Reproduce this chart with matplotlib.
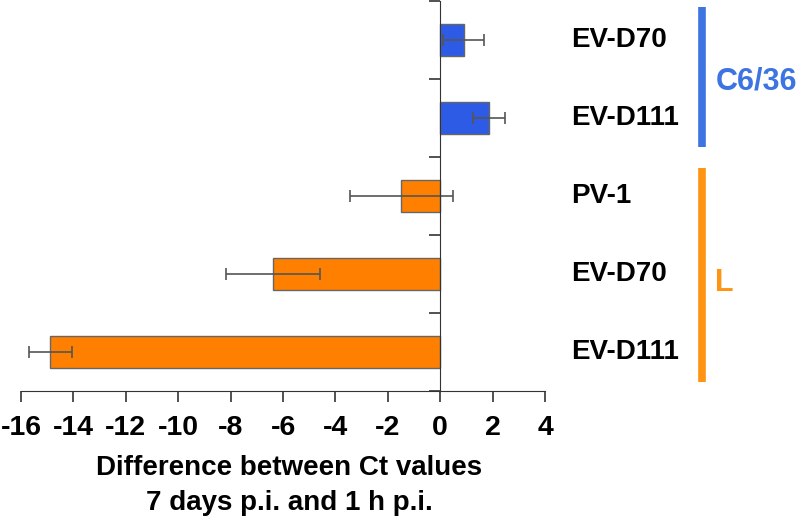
import numpy as np
import matplotlib.pyplot as plt

plt.rcParams['font.family'] = ['Liberation Sans', 'DejaVu Sans']
plt.rcParams['font.weight'] = 'bold'

# data, top to bottom
labels = ['EV-D70', 'EV-D111', 'PV-1', 'EV-D70', 'EV-D111']
values = [0.89, 1.87, -1.48, -6.38, -14.88]
errors = [0.78, 0.60, 1.96, 1.80, 0.82]
groups = ['C6/36', 'C6/36', 'L', 'L', 'L']
bar_colors = ['#2d5be6', '#2d5be6', '#ff8000', '#ff8000', '#ff8000']

group_names = ['C6/36', 'L']
group_colors = ['#3d74e2', '#ff9412']

fig = plt.figure(figsize=(8, 5.19), dpi=100)
ax = fig.add_axes([0.02625, 0.2466, 0.655, 0.7515])

y = np.arange(len(values))
ax.barh(y, values, height=0.41, color=bar_colors, edgecolor='#666666', linewidth=1)
ax.errorbar(values, y, xerr=errors, fmt='none', ecolor='#555555',
            elinewidth=1.2, capsize=4, capthick=1.2)

ax.set_xlim(-16, 4)
ax.set_ylim(len(values) - 0.5, -0.5)
ax.set_xticks(np.arange(-16, 5, 2))
ax.set_xticklabels([str(v) for v in range(-16, 5, 2)], fontsize=20.5, fontweight='bold')
ax.set_yticks(np.arange(-0.5, len(values), 1))
ax.set_yticklabels([])

for s in ['top', 'right']:
    ax.spines[s].set_visible(False)
ax.spines['left'].set_position(('data', 0))
ax.spines['left'].set_color('#333333')
ax.spines['bottom'].set_color('#333333')
ax.tick_params(axis='both', direction='out', length=8, width=1.2, color='#333333')
ax.tick_params(axis='x', pad=9)

ax.set_xlabel('Difference between Ct values\n7 days p.i. and 1 h p.i.',
              fontsize=20, fontweight='bold', labelpad=10, linespacing=1.45, x=0.512)

# right-hand labels
for i, lab in enumerate(labels):
    ax.text(5.0, i, lab, fontsize=20, fontweight='bold', va='center', ha='left',
            clip_on=False)

# group brackets
spans = [(-0.42, 1.37), (1.64, 4.38)]
label_y = [0.53, 3.12]
for name, col, (y0, y1), ly in zip(group_names, group_colors, spans, label_y):
    ax.plot([10.0, 10.0], [y0, y1], color=col, lw=5.5, clip_on=False,
            solid_capstyle='butt')
    ax.text(10.5, ly, name, color=col, fontsize=22, fontweight='bold',
            va='center', ha='left', clip_on=False)

fig.savefig('out.png', dpi=100)
